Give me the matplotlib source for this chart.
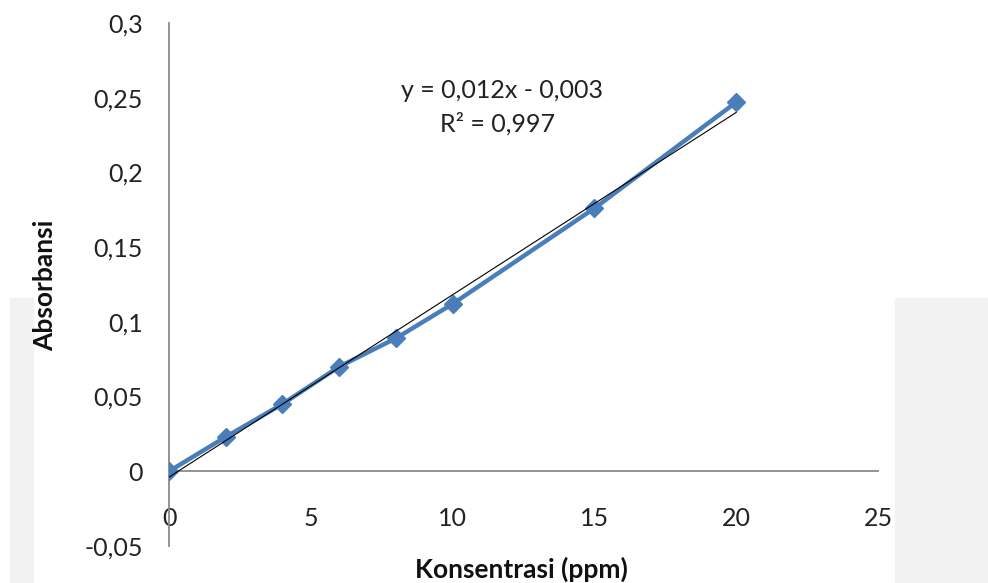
import numpy as np
import matplotlib.pyplot as plt
from matplotlib.patches import Rectangle
from matplotlib.ticker import FuncFormatter

# data
konsentrasi = [0, 2, 4, 6, 8, 10, 15, 20]
absorbansi = [0.0, 0.023, 0.045, 0.070, 0.089, 0.112, 0.176, 0.247]
x_ticks = [0, 5, 10, 15, 20, 25]
y_ticks = [-0.05, 0, 0.05, 0.1, 0.15, 0.2, 0.25, 0.3]

plt.rcParams['font.family'] = ['Lato', 'DejaVu Sans']

fig = plt.figure(figsize=(9.88, 5.83), dpi=100)
# grey page bits behind the chart (scan background)
fig.patches.append(Rectangle((10/988, 0), 23/988, 285/583, transform=fig.transFigure,
                             color='#f2f2f2', zorder=-5))
fig.patches.append(Rectangle((895/988, 0), 93/988, 285/583, transform=fig.transFigure,
                             color='#f2f2f2', zorder=-5))

ax = fig.add_axes([169/988, 1-546/583, 709/988, 523/583])
ax.patch.set_alpha(0)

ax.plot(konsentrasi, absorbansi, color='#4a7ebb', lw=3.2, marker='D',
        markersize=9, zorder=3)

slope, icpt = np.polyfit(konsentrasi, absorbansi, 1)
xf = np.array([konsentrasi[0], konsentrasi[-1]])
ax.plot(xf, slope*xf + icpt, color='black', lw=0.8, zorder=4)

ax.text(11.75, 0.2545, 'y = 0,012x - 0,003', ha='center', va='center', fontsize=18, color='#222222')
ax.text(11.6, 0.2325, 'R² = 0,997', ha='center', va='center', fontsize=18, color='#222222')

ax.set_xlim(0, 25)
ax.set_ylim(-0.05, 0.3)
ax.set_xticks(x_ticks)
ax.set_yticks(y_ticks)
ax.xaxis.set_major_formatter(FuncFormatter(lambda v, p: f'{v:g}'))
ax.yaxis.set_major_formatter(FuncFormatter(lambda v, p: f'{v:g}'.replace('.', ',')))

ax.spines['left'].set_position(('data', 0))
ax.spines['bottom'].set_position(('data', 0))
ax.spines['top'].set_visible(False)
ax.spines['right'].set_visible(False)
for s in ['left', 'bottom']:
    ax.spines[s].set_color('#8a8a8a')
    ax.spines[s].set_linewidth(1.3)

ax.tick_params(axis='x', length=0, pad=26, labelsize=18, colors='#222222')
ax.tick_params(axis='y', length=0, pad=19, labelsize=18, colors='#222222')

fig.text(45/988, 1-285/583, 'Absorbansi', rotation=90, ha='center', va='center',
         fontsize=19, fontweight='bold', color='#111111')
fig.text(521/988, 1-569/583, 'Konsentrasi (ppm)', ha='center', va='center',
         fontsize=19, fontweight='bold', color='#111111')

fig.savefig('out.png', dpi=100)
